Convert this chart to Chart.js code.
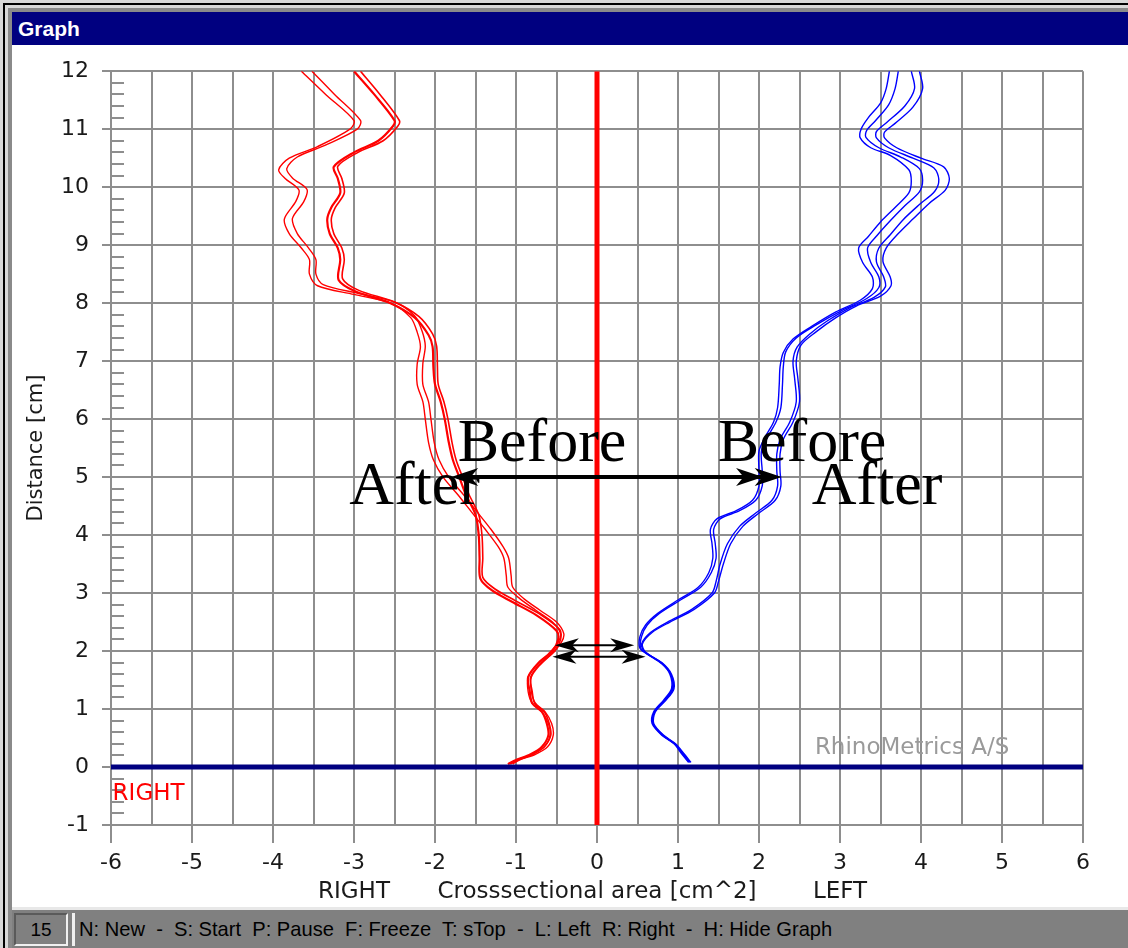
<!DOCTYPE html>
<html>
<head>
<meta charset="utf-8">
<script src="https://cdn.jsdelivr.net/npm/chart.js@4.4.0/dist/chart.umd.min.js"></script>
<style>
  body { margin: 0; width: 1128px; height: 948px; overflow: hidden; background: #d8d8d8; position: relative; }
  .abs { position: absolute; }
  #titlebar { left: 12px; top: 12px; width: 1116px; height: 33px; background: #000080; color: #fff;
    font: bold 21px "Liberation Sans", Arial, sans-serif; line-height: 33px; }
  #titlebar span { margin-left: 6px; }
  #content { left: 12px; top: 45px; width: 1116px; height: 862px; background: #fff; }
  #status { left: 12px; top: 907px; width: 1116px; height: 41px; background: #808080; border-top: 3px solid #e8e8e8; box-sizing: border-box; }
  #panel { left: 2px; top: 3px; width: 54px; height: 33px; border: 2px solid; border-color: #5a5a5a #f0f0f0 #f0f0f0 #5a5a5a;
    box-sizing: border-box; font: 19px "Liberation Sans", Arial, sans-serif; line-height: 29px; text-align: center; color: #000; }
  #keys { left: 60px; top: 3px; width: 1056px; height: 33px; border-left: 3px solid #f0f0f0; box-sizing: border-box; }
  #keysText { position: absolute; left: 4px; top: 0; font: 21px "Liberation Sans", Arial, sans-serif; line-height: 31px;
    white-space: pre; color: #000; transform-origin: 0 50%; }
</style>
</head>
<body>
<div class="abs" style="left:3px;top:3px;width:2px;height:945px;background:#000"></div>
<div class="abs" style="left:3px;top:3px;width:1125px;height:2px;background:#000"></div>
<div class="abs" style="left:8px;top:8px;width:4px;height:940px;background:#8a8a8a"></div>
<div class="abs" style="left:8px;top:8px;width:1120px;height:4px;background:#8a8a8a"></div>
<div id="titlebar" class="abs"><span>Graph</span></div>
<div id="content" class="abs"><canvas id="graph" width="1116" height="862"></canvas></div>
<div id="status" class="abs">
  <div id="panel" class="abs">15</div>
  <div id="keys" class="abs"><span id="keysText">N: New  -  S: Start  P: Pause  F: Freeze  T: sTop  -  L: Left  R: Right  -  H: Hide Graph</span></div>
</div>
<script>
// squeeze the status text into the width it has in the original
const keysText = document.getElementById('keysText');
keysText.style.transform = 'scaleX(' + (753 / keysText.offsetWidth) + ')';

// tick labels
const xTickLabels = [-6, -5, -4, -3, -2, -1, 0, 1, 2, 3, 4, 5, 6];
const yTickLabels = [-1, 0, 1, 2, 3, 4, 5, 6, 7, 8, 9, 10, 11, 12];

// RIGHT side (negative x), outer pair of traces
const redA1 = [[-3.65,12.0],[-3.35,11.6],[-3.0,11.15],[-3.05,11.0],[-3.45,10.7],[-3.8,10.5],[-3.93,10.3],[-3.85,10.15],[-3.68,9.95],[-3.72,9.75],[-3.86,9.45],[-3.8,9.2],[-3.65,8.95],[-3.55,8.75],[-3.55,8.5],[-3.45,8.3],[-3.0,8.15],[-2.55,8.0],[-2.3,7.75],[-2.22,7.5],[-2.18,7.25],[-2.22,6.95],[-2.22,6.6],[-2.15,6.3],[-2.12,6.0],[-2.08,5.6],[-2.02,5.3],[-1.9,5.0],[-1.72,4.7],[-1.55,4.4],[-1.38,4.1],[-1.22,3.8],[-1.15,3.6],[-1.12,3.3],[-1.1,3.1],[-0.95,2.9],[-0.75,2.7],[-0.55,2.5],[-0.45,2.3],[-0.48,2.15],[-0.6,1.95],[-0.75,1.75],[-0.85,1.55],[-0.85,1.3],[-0.8,1.1],[-0.68,0.95],[-0.6,0.75],[-0.58,0.55],[-0.65,0.35],[-0.8,0.22],[-1.0,0.12],[-1.08,0.05]];
const redA2 = [[-3.52,12.0],[-3.24,11.6],[-2.92,11.15],[-2.96,11.0],[-3.36,10.72],[-3.7,10.52],[-3.83,10.32],[-3.76,10.16],[-3.58,9.96],[-3.62,9.75],[-3.76,9.46],[-3.7,9.2],[-3.56,8.95],[-3.47,8.75],[-3.47,8.5],[-3.38,8.32],[-2.95,8.17],[-2.5,8.02],[-2.25,7.78],[-2.16,7.52],[-2.12,7.26],[-2.15,6.96],[-2.15,6.6],[-2.08,6.3],[-2.05,6.0],[-2.01,5.6],[-1.95,5.3],[-1.83,5.0],[-1.65,4.7],[-1.48,4.4],[-1.31,4.1],[-1.16,3.8],[-1.09,3.6],[-1.06,3.3],[-1.04,3.1],[-0.9,2.9],[-0.7,2.7],[-0.5,2.5],[-0.41,2.3],[-0.44,2.15],[-0.56,1.95],[-0.71,1.75],[-0.81,1.55],[-0.81,1.3],[-0.76,1.1],[-0.64,0.95],[-0.56,0.75],[-0.54,0.55],[-0.61,0.35],[-0.76,0.22],[-0.96,0.12],[-1.04,0.05]];
// RIGHT side, inner (bold) pair
const redB1 = [[-3.0,12.0],[-2.75,11.6],[-2.5,11.15],[-2.52,11.05],[-2.7,10.8],[-3.0,10.6],[-3.25,10.35],[-3.2,10.15],[-3.17,9.9],[-3.28,9.65],[-3.33,9.45],[-3.3,9.2],[-3.2,8.95],[-3.17,8.75],[-3.19,8.4],[-2.98,8.2],[-2.55,8.0],[-2.25,7.75],[-2.08,7.45],[-2.03,7.25],[-2.02,6.9],[-2.0,6.6],[-1.93,6.3],[-1.88,6.0],[-1.83,5.6],[-1.78,5.3],[-1.7,5.0],[-1.62,4.7],[-1.5,4.35],[-1.46,4.0],[-1.45,3.6],[-1.44,3.25],[-1.3,3.05],[-1.05,2.85],[-0.75,2.62],[-0.5,2.35],[-0.48,2.2],[-0.55,2.0],[-0.72,1.8],[-0.85,1.55],[-0.83,1.3],[-0.8,1.1],[-0.68,0.95],[-0.62,0.75],[-0.6,0.55],[-0.68,0.35],[-0.82,0.22],[-1.0,0.12],[-1.1,0.05]];
const redB2 = [[-2.92,12.0],[-2.68,11.6],[-2.44,11.15],[-2.46,11.05],[-2.64,10.8],[-2.95,10.6],[-3.2,10.36],[-3.15,10.15],[-3.12,9.9],[-3.23,9.65],[-3.28,9.45],[-3.25,9.2],[-3.15,8.95],[-3.12,8.75],[-3.14,8.42],[-2.94,8.22],[-2.5,8.02],[-2.2,7.77],[-2.03,7.47],[-1.98,7.26],[-1.97,6.9],[-1.96,6.6],[-1.89,6.3],[-1.84,6.0],[-1.79,5.6],[-1.74,5.3],[-1.66,5.0],[-1.58,4.7],[-1.46,4.35],[-1.42,4.0],[-1.41,3.6],[-1.41,3.27],[-1.26,3.07],[-1.01,2.87],[-0.71,2.64],[-0.46,2.37],[-0.45,2.2],[-0.52,2.0],[-0.69,1.8],[-0.82,1.55],[-0.8,1.3],[-0.77,1.1],[-0.65,0.95],[-0.59,0.75],[-0.57,0.55],[-0.65,0.35],[-0.79,0.22],[-0.97,0.12],[-1.07,0.05]];

// LEFT side (positive x), four traces from left to right
const blue1 = [[3.61,12.0],[3.57,11.7],[3.5,11.45],[3.35,11.2],[3.26,11.0],[3.25,10.85],[3.38,10.68],[3.62,10.55],[3.85,10.3],[3.88,10.1],[3.85,9.9],[3.68,9.65],[3.5,9.4],[3.35,9.15],[3.23,8.95],[3.28,8.7],[3.4,8.45],[3.4,8.25],[3.25,8.05],[2.95,7.85],[2.65,7.6],[2.42,7.38],[2.3,7.15],[2.26,6.9],[2.25,6.6],[2.23,6.2],[2.18,5.95],[2.08,5.7],[2.0,5.45],[2.0,5.1],[2.0,4.85],[1.92,4.6],[1.72,4.42],[1.48,4.28],[1.4,4.1],[1.42,3.85],[1.43,3.6],[1.38,3.35],[1.25,3.1],[1.0,2.88],[0.75,2.65],[0.6,2.45],[0.53,2.25],[0.53,2.05],[0.62,1.95],[0.8,1.78],[0.9,1.6],[0.92,1.35],[0.82,1.15],[0.7,0.95],[0.68,0.75],[0.8,0.55],[0.95,0.4],[1.05,0.22],[1.13,0.08]];
const blue2 = [[3.72,12.0],[3.68,11.7],[3.6,11.42],[3.44,11.15],[3.33,10.98],[3.32,10.86],[3.48,10.68],[3.75,10.52],[3.98,10.32],[4.02,10.12],[3.98,9.92],[3.8,9.68],[3.62,9.42],[3.46,9.17],[3.34,8.95],[3.38,8.7],[3.48,8.45],[3.48,8.27],[3.33,8.08],[3.02,7.87],[2.7,7.62],[2.46,7.4],[2.33,7.16],[2.3,6.9],[2.29,6.6],[2.27,6.2],[2.21,5.95],[2.11,5.7],[2.03,5.45],[2.04,5.1],[2.04,4.85],[1.96,4.6],[1.76,4.42],[1.52,4.28],[1.44,4.1],[1.46,3.85],[1.47,3.6],[1.41,3.35],[1.28,3.1],[1.03,2.88],[0.77,2.65],[0.62,2.45],[0.55,2.25],[0.54,2.05],[0.63,1.95],[0.81,1.78],[0.91,1.6],[0.93,1.35],[0.83,1.15],[0.71,0.95],[0.69,0.75],[0.81,0.55],[0.96,0.4],[1.06,0.22],[1.14,0.08]];
const blue3 = [[3.88,12.0],[3.92,11.7],[3.8,11.4],[3.58,11.12],[3.45,10.96],[3.45,10.85],[3.6,10.68],[3.9,10.5],[4.16,10.33],[4.22,10.13],[4.17,9.93],[3.98,9.7],[3.78,9.44],[3.62,9.18],[3.48,8.95],[3.45,8.71],[3.54,8.45],[3.56,8.28],[3.42,8.1],[3.12,7.92],[2.85,7.7],[2.62,7.46],[2.47,7.24],[2.42,7.0],[2.44,6.7],[2.46,6.3],[2.38,5.95],[2.26,5.65],[2.22,5.4],[2.22,5.1],[2.23,4.85],[2.16,4.6],[1.96,4.38],[1.76,4.15],[1.61,3.85],[1.52,3.5],[1.47,3.2],[1.42,3.0],[1.17,2.72],[0.87,2.5],[0.66,2.32],[0.55,2.12],[0.59,1.98],[0.79,1.8],[0.91,1.6],[0.94,1.35],[0.84,1.15],[0.71,0.95],[0.69,0.75],[0.81,0.55],[0.96,0.4],[1.07,0.22],[1.15,0.08]];
const blue4 = [[3.98,12.0],[4.02,11.7],[3.9,11.38],[3.68,11.1],[3.55,10.95],[3.55,10.85],[3.7,10.68],[4.0,10.5],[4.28,10.35],[4.35,10.15],[4.3,9.95],[4.1,9.72],[3.9,9.45],[3.72,9.2],[3.57,8.95],[3.53,8.72],[3.62,8.45],[3.63,8.3],[3.5,8.12],[3.2,7.95],[2.95,7.75],[2.7,7.5],[2.52,7.28],[2.46,7.0],[2.48,6.7],[2.5,6.3],[2.42,5.95],[2.3,5.65],[2.26,5.4],[2.26,5.1],[2.27,4.85],[2.2,4.6],[2.0,4.38],[1.8,4.15],[1.65,3.85],[1.56,3.5],[1.5,3.2],[1.45,3.0],[1.2,2.72],[0.9,2.5],[0.68,2.32],[0.56,2.12],[0.6,1.98],[0.8,1.8],[0.92,1.6],[0.95,1.35],[0.85,1.15],[0.72,0.95],[0.7,0.75],[0.82,0.55],[0.97,0.4],[1.08,0.22],[1.16,0.08]];

// reference lines
const centerLine = [[0, -1], [0, 12]];
const baseLine = [[-6, 0], [6, 0]];

// annotation arrows (data units)
const bigArrow = { y: 5, from: -1.8, to: 2.28, heads: [2.05, 2.28] };
const smallArrows = [{ y: 2.1, from: -0.52, to: 0.46 }, { y: 1.9, from: -0.55, to: 0.6 }];

// annotation texts
const noteTexts = ['Before', 'Before', 'After', 'After'];
const noteX = [-1.72, 1.49, -3.06, 2.65];
const noteY = [5.27, 5.27, 4.53, 4.53];

const pts = arr => arr.map(p => ({ x: p[0], y: p[1] }));

function trace(arr, color, width) {
  return { data: pts(arr), showLine: true, borderColor: color, borderWidth: width,
    pointRadius: 0, tension: 0.3, fill: false, order: 3 };
}

function head(c, tip, y, dir, len, half) {
  c.beginPath();
  c.moveTo(tip, y);
  c.lineTo(tip - dir * len, y - half);
  c.lineTo(tip - dir * len * 0.72, y);
  c.lineTo(tip - dir * len, y + half);
  c.closePath();
  c.fill();
}

const overlay = {
  id: 'overlay',
  beforeDatasetsDraw(chart) {
    const c = chart.ctx, x = chart.scales.x, y = chart.scales.y;
    c.save();
    c.strokeStyle = '#8e8e8e';
    c.lineWidth = 2;
    for (let i = -5; i <= 60; i++) {
      if (i % 5 === 0) continue;
      const py = Math.round(y.getPixelForValue(i / 5));
      c.beginPath();
      c.moveTo(x.left, py);
      c.lineTo(x.left + 13, py);
      c.stroke();
    }
    c.restore();
  },
  afterDatasetsDraw(chart) {
    const c = chart.ctx, x = chart.scales.x, y = chart.scales.y;
    c.save();
    c.fillStyle = '#000';
    c.strokeStyle = '#000';

    // big arrow
    let py = y.getPixelForValue(bigArrow.y);
    c.lineWidth = 4;
    c.beginPath();
    c.moveTo(x.getPixelForValue(bigArrow.from) + 10, py);
    c.lineTo(x.getPixelForValue(bigArrow.to) - 10, py);
    c.stroke();
    head(c, x.getPixelForValue(bigArrow.from), py, -1, 27, 9);
    bigArrow.heads.forEach(h => head(c, x.getPixelForValue(h), py, 1, 27, 9));

    // small arrows
    c.lineWidth = 2;
    smallArrows.forEach(a => {
      const ay = y.getPixelForValue(a.y);
      const x0 = x.getPixelForValue(a.from), x1 = x.getPixelForValue(a.to);
      c.beginPath();
      c.moveTo(x0 + 8, ay);
      c.lineTo(x1 - 8, ay);
      c.stroke();
      head(c, x0, ay, -1, 24, 7);
      head(c, x1, ay, 1, 24, 7);
    });

    // Before / After
    c.font = '62px "Liberation Serif", "Times New Roman", serif';
    c.textBaseline = 'alphabetic';
    c.textAlign = 'left';
    noteTexts.forEach((t, i) => c.fillText(t, x.getPixelForValue(noteX[i]), y.getPixelForValue(noteY[i])));

    // watermark and side label
    c.textBaseline = 'middle';
    c.font = '23px "DejaVu Sans", sans-serif';
    c.fillStyle = '#9a9a9a';
    c.fillText('RhinoMetrics A/S', x.getPixelForValue(2.69), y.getPixelForValue(0.33));
    c.fillStyle = '#ff0000';
    c.fillText('RIGHT', x.getPixelForValue(-5.98), y.getPixelForValue(-0.47));

    // x axis titles
    c.fillStyle = '#1a1a1a';
    c.textAlign = 'center';
    const ty = chart.chartArea.bottom + 67;
    c.fillText('RIGHT', x.getPixelForValue(-3), ty);
    c.fillText('Crosssectional area [cm^2]', x.getPixelForValue(0), ty);
    c.fillText('LEFT', x.getPixelForValue(3), ty);
    c.restore();
  }
};

const gridColor = '#8e8e8e';
const tickFont = { family: 'DejaVu Sans', size: 22 };

new Chart(document.getElementById('graph'), {
  type: 'scatter',
  data: {
    datasets: [
      { data: pts(centerLine), showLine: true, borderColor: '#ff0000', borderWidth: 5, pointRadius: 0, order: 0 },
      { data: pts(baseLine), showLine: true, borderColor: '#000080', borderWidth: 5, pointRadius: 0, order: 1 },
      trace(redA1, '#ff0000', 1.4),
      trace(redA2, '#ff0000', 1.4),
      trace(redB1, '#ff0000', 2.2),
      trace(redB2, '#ff0000', 1.6),
      trace(blue1, '#0000ff', 1.4),
      trace(blue2, '#0000ff', 1.4),
      trace(blue3, '#0000ff', 1.4),
      trace(blue4, '#0000ff', 1.4)
    ]
  },
  options: {
    responsive: false,
    animation: false,
    layout: { padding: { left: 0, right: 45, top: 26, bottom: 0 } },
    plugins: { legend: { display: false }, tooltip: { enabled: false } },
    scales: {
      x: {
        type: 'linear', min: -6, max: 6,
        ticks: { stepSize: 0.5, autoSkip: false, maxRotation: 0, padding: 7, color: '#1a1a1a', font: tickFont,
          callback: v => xTickLabels.includes(v) ? String(v) : '' },
        grid: { color: gridColor, lineWidth: 2, tickLength: 18,
          tickColor: ctx => xTickLabels.includes(ctx.tick.value) ? gridColor : 'rgba(0,0,0,0)' },
        border: { display: false },
        afterFit: s => { s.height = 82; }
      },
      y: {
        type: 'linear', min: -1, max: 12,
        ticks: { stepSize: 1, padding: 13, color: '#1a1a1a', font: tickFont,
          callback: v => yTickLabels.includes(v) ? String(v) : '' },
        grid: { color: gridColor, lineWidth: 2, tickLength: 9 },
        border: { display: false },
        title: { display: true, text: 'Distance [cm]', color: '#1a1a1a', font: { family: 'DejaVu Sans', size: 21 }, padding: { top: 12, bottom: 0 } },
        afterFit: s => { s.width = 99; }
      }
    }
  },
  plugins: [overlay]
});
</script>
</body>
</html>
